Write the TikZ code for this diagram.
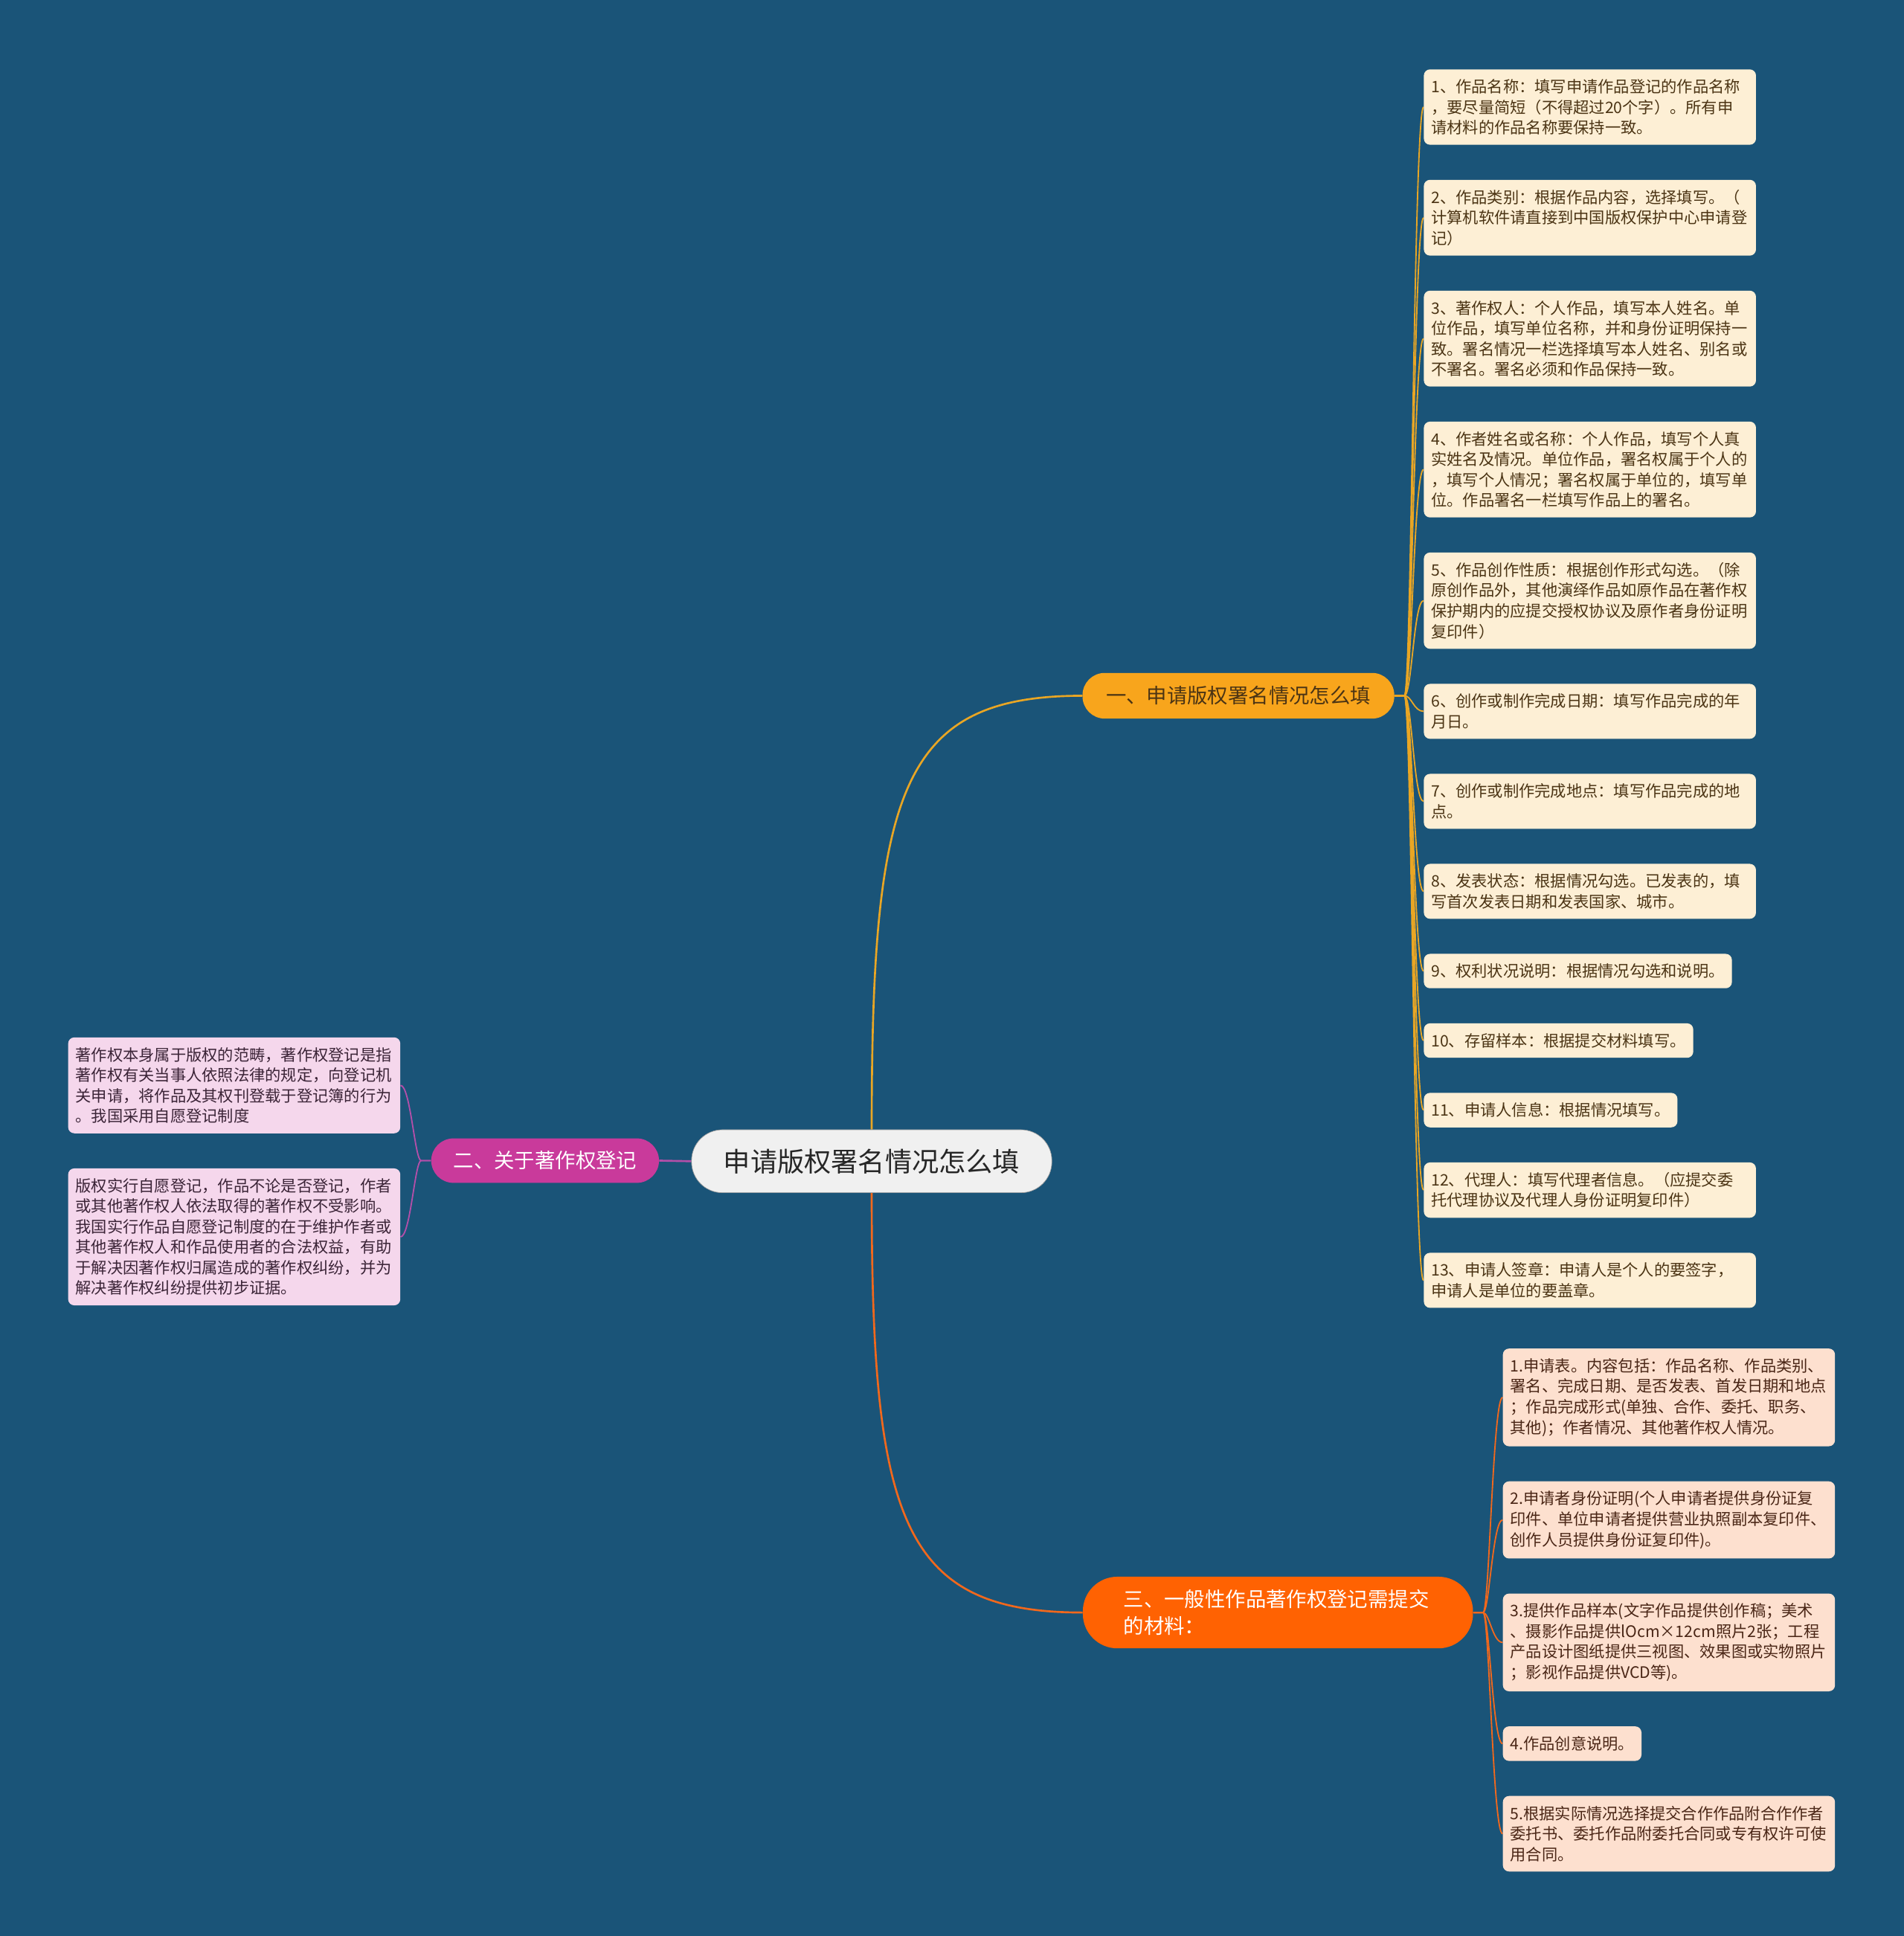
\documentclass[tikz,border=0pt]{standalone}
\usepackage{fontspec}
\setmainfont{Noto Sans CJK SC}
\usepackage{xcolor}
\usetikzlibrary{positioning,backgrounds}

\definecolor{bgblue}{HTML}{1A5478}
\definecolor{rootfill}{HTML}{F0F0F0}
\definecolor{onefill}{HTML}{F8A51C}
\definecolor{oneline}{HTML}{E9A624}
\definecolor{oneleaf}{HTML}{FDEFD5}
\definecolor{onetext}{HTML}{4B3414}
\definecolor{twofill}{HTML}{C93A9B}
\definecolor{twoline}{HTML}{B44FA9}
\definecolor{twoleaf}{HTML}{F5D7EC}
\definecolor{twotext}{HTML}{3B2437}
\definecolor{threefill}{HTML}{FF6202}
\definecolor{threeline}{HTML}{F2681C}
\definecolor{threeleaf}{HTML}{FDE0CF}
\definecolor{threetext}{HTML}{4A2616}

\begin{document}
\begin{tikzpicture}[x=1pt, y=-1pt,
  leaf/.style={rounded corners=5pt, inner xsep=6pt, inner ysep=8pt, align=left,
               font=\fontsize{12.8pt}{16.6pt}\selectfont},
  leafw/.style={leaf, text width=257pt},
  pill/.style={inner ysep=0pt, font=\fontsize{16.5pt}{22pt}\selectfont},
  link/.style={line width=1.1pt},
  mainlink/.style={line width=1.6pt}
]
\node[rounded corners=25pt, fill=rootfill, draw=black!40, line width=0.4pt,
      minimum height=51pt, inner xsep=26pt, text=black!85,
      font=\fontsize{21.8pt}{26pt}\selectfont] (root) at (706,940.5) {申请版权署名情况怎么填};
\node[pill, rounded corners=18pt, fill=onefill, minimum height=37pt, inner xsep=19pt,
      text=onetext] (one) at (1003,563.5) {一、申请版权署名情况怎么填};
\node[pill, rounded corners=18pt, fill=twofill, minimum height=36pt, inner xsep=18pt,
      text=white] (two) at (441.5,940) {二、关于著作权登记};
\node[pill, rounded corners=28pt, fill=threefill, minimum height=58pt, inner xsep=33pt,
      align=left, text width=250pt, text=white] (three) at (1035,1306) {三、一般性作品著作权登记需提交\\的材料：};

% branch one
\tikzset{leaf/.append style={}}
\begin{scope}[every node/.style={fill=oneleaf, text=onetext}]
\node[leafw, anchor=north west] (a1) at (1153,56) {1、作品名称：填写申请作品登记的作品名称\\，要尽量简短（不得超过20个字）。所有申\\请材料的作品名称要保持一致。};
\node[leafw, below=28pt of a1.south west, anchor=north west] (a2) {2、作品类别：根据作品内容，选择填写。（\\计算机软件请直接到中国版权保护中心申请登\\记）};
\node[leafw, below=28pt of a2.south west, anchor=north west] (a3) {3、著作权人：个人作品，填写本人姓名。单\\位作品，填写单位名称，并和身份证明保持一\\致。署名情况一栏选择填写本人姓名、别名或\\不署名。署名必须和作品保持一致。};
\node[leafw, below=28pt of a3.south west, anchor=north west] (a4) {4、作者姓名或名称：个人作品，填写个人真\\实姓名及情况。单位作品，署名权属于个人的\\，填写个人情况；署名权属于单位的，填写单\\位。作品署名一栏填写作品上的署名。};
\node[leafw, below=28pt of a4.south west, anchor=north west] (a5) {5、作品创作性质：根据创作形式勾选。（除\\原创作品外，其他演绎作品如原作品在著作权\\保护期内的应提交授权协议及原作者身份证明\\复印件）};
\node[leafw, below=28pt of a5.south west, anchor=north west] (a6) {6、创作或制作完成日期：填写作品完成的年\\月日。};
\node[leafw, below=28pt of a6.south west, anchor=north west] (a7) {7、创作或制作完成地点：填写作品完成的地\\点。};
\node[leafw, below=28pt of a7.south west, anchor=north west] (a8) {8、发表状态：根据情况勾选。已发表的，填\\写首次发表日期和发表国家、城市。};
\node[leaf, below=28pt of a8.south west, anchor=north west] (a9) {9、权利状况说明：根据情况勾选和说明。};
\node[leaf, below=28pt of a9.south west, anchor=north west] (a10) {10、存留样本：根据提交材料填写。};
\node[leaf, below=28pt of a10.south west, anchor=north west] (a11) {11、申请人信息：根据情况填写。};
\node[leafw, below=28pt of a11.south west, anchor=north west] (a12) {12、代理人：填写代理者信息。（应提交委\\托代理协议及代理人身份证明复印件）};
\node[leafw, below=28pt of a12.south west, anchor=north west] (a13) {13、申请人签章：申请人是个人的要签字，\\申请人是单位的要盖章。};
\end{scope}

% branch two
\begin{scope}[every node/.style={fill=twoleaf, text=twotext}]
\node[leafw, anchor=north west] (c1) at (55,840) {著作权本身属于版权的范畴，著作权登记是指\\著作权有关当事人依照法律的规定，向登记机\\关申请，将作品及其权刊登载于登记簿的行为\\。我国采用自愿登记制度};
\node[leafw, below=28pt of c1.south west, anchor=north west] (c2) {版权实行自愿登记，作品不论是否登记，作者\\或其他著作权人依法取得的著作权不受影响。\\我国实行作品自愿登记制度的在于维护作者或\\其他著作权人和作品使用者的合法权益，有助\\于解决因著作权归属造成的著作权纠纷，并为\\解决著作权纠纷提供初步证据。};
\end{scope}

% branch three
\begin{scope}[every node/.style={fill=threeleaf, text=threetext}]
\node[leafw, anchor=north west] (b1) at (1217,1092) {1.申请表。内容包括：作品名称、作品类别、\\署名、完成日期、是否发表、首发日期和地点\\；作品完成形式(单独、合作、委托、职务、\\其他)；作者情况、其他著作权人情况。};
\node[leafw, below=28pt of b1.south west, anchor=north west] (b2) {2.申请者身份证明(个人申请者提供身份证复\\印件、单位申请者提供营业执照副本复印件、\\创作人员提供身份证复印件)。};
\node[leafw, below=28pt of b2.south west, anchor=north west] (b3) {3.提供作品样本(文字作品提供创作稿；美术\\、摄影作品提供lOcm×12cm照片2张；工程\\产品设计图纸提供三视图、效果图或实物照片\\；影视作品提供VCD等)。};
\node[leaf, below=28pt of b3.south west, anchor=north west] (b4) {4.作品创意说明。};
\node[leafw, below=28pt of b4.south west, anchor=north west] (b5) {5.根据实际情况选择提交合作作品附合作作者\\委托书、委托作品附委托合同或专有权许可使\\用合同。};
\end{scope}

\begin{scope}[on background layer]
\fill[bgblue] (0,0) rectangle (1542,1568);
% main connectors
\draw[mainlink, oneline] (root.north) .. controls +(0,-275) and +(-147,0) .. (one.west);
\draw[mainlink, threeline] (root.south) .. controls +(0,264) and +(-147,0) .. (three.west);
\draw[mainlink, twoline] (root.west) -- (two.east);
% leaf connectors
\foreach \i in {1,...,13}
  \draw[link, oneline] (one.east) -- ++(8,0) .. controls +(6,0) and +(-8,0) .. (a\i.west);
\foreach \i in {1,...,5}
  \draw[link, threeline] (three.east) -- ++(8,0) .. controls +(5,0) and +(-8,0) .. (b\i.west);
\foreach \i in {1,2}
  \draw[link, twoline] (two.west) -- ++(-8,0) .. controls +(-5,0) and +(8,0) .. (c\i.east);
\end{scope}
\end{tikzpicture}
\end{document}
